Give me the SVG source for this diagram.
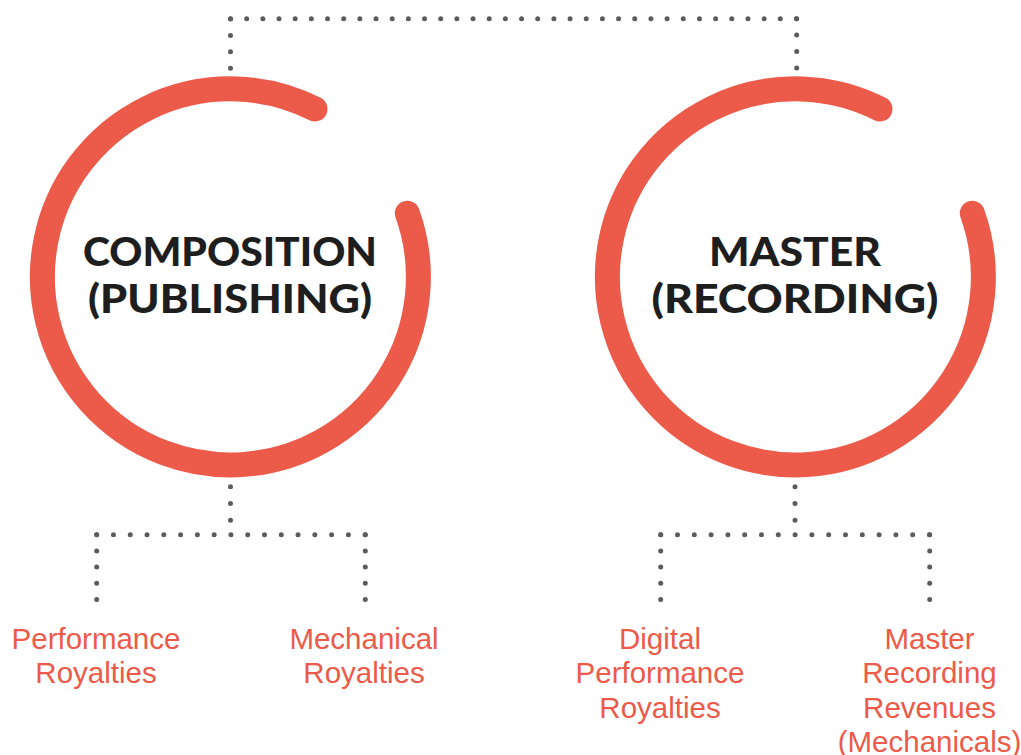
<svg xmlns="http://www.w3.org/2000/svg" width="1021" height="755" viewBox="0 0 1021 755">
<style>
.ring{fill:none;stroke:#EC5A49;stroke-width:25;stroke-linecap:round}
.dot{fill:none;stroke:#5C5C5E;stroke-width:5;stroke-linecap:round}
.title{font-family:Lato,"Open Sans","DejaVu Sans",sans-serif;font-weight:900;font-size:39px;fill:#1E1E1E;text-anchor:middle}
.label{font-family:"Liberation Sans",Arial,sans-serif;font-size:29.5px;fill:#EC5A49;text-anchor:middle}
</style>
<rect width="1021" height="755" fill="#FFFFFF"/>
<g id="connectors">
<path class="dot" d="M230.5 68.2 V18.7" stroke-dasharray="0 16.4"/>
<path class="dot" d="M230.5 18.7 H796.9" stroke-dasharray="0 16.17"/>
<path class="dot" d="M796.7 18.7 V68.2" stroke-dasharray="0 16.4"/>
<path class="dot" d="M230.5 486.7 V520.5" stroke-dasharray="0 16.8"/>
<path class="dot" d="M96.7 534.7 H365.5" stroke-dasharray="0 16.78"/>
<path class="dot" d="M96.7 534.7 V600" stroke-dasharray="0 16.2"/>
<path class="dot" d="M365.3 534.7 V600" stroke-dasharray="0 16.2"/>
<path class="dot" d="M795 486.7 V520.5" stroke-dasharray="0 16.8"/>
<path class="dot" d="M660.7 534.7 H929.9" stroke-dasharray="0 16.8"/>
<path class="dot" d="M660.7 534.7 V600" stroke-dasharray="0 16.2"/>
<path class="dot" d="M929.7 534.7 V600" stroke-dasharray="0 16.2"/>
</g>
<g id="composition">
<path class="ring" d="M315 109 A188 188 0 1 0 407.3 213.3"/>
<text class="title" x="230" y="265.7" textLength="294" lengthAdjust="spacingAndGlyphs">COMPOSITION</text>
<text class="title" x="230" y="313.3" textLength="284" lengthAdjust="spacingAndGlyphs">(PUBLISHING)</text>
</g>
<g id="master">
<path class="ring" d="M880 109 A188 188 0 1 0 972.3 213.3"/>
<text class="title" x="795" y="265.7" textLength="172" lengthAdjust="spacingAndGlyphs">MASTER</text>
<text class="title" x="795" y="313.3" textLength="287" lengthAdjust="spacingAndGlyphs">(RECORDING)</text>
</g>
<g id="performance-royalties">
<text class="label" x="96" y="649">Performance</text>
<text class="label" x="96" y="682.5">Royalties</text>
</g>
<g id="mechanical-royalties">
<text class="label" x="364" y="649">Mechanical</text>
<text class="label" x="364" y="682.5">Royalties</text>
</g>
<g id="digital-performance-royalties">
<text class="label" x="660" y="649">Digital</text>
<text class="label" x="660" y="683">Performance</text>
<text class="label" x="660" y="717.5">Royalties</text>
</g>
<g id="master-recording-revenues">
<text class="label" x="929.5" y="649">Master</text>
<text class="label" x="929.5" y="683">Recording</text>
<text class="label" x="929.5" y="717.5">Revenues</text>
<text class="label" x="929.5" y="752">(Mechanicals)</text>
</g>
</svg>
